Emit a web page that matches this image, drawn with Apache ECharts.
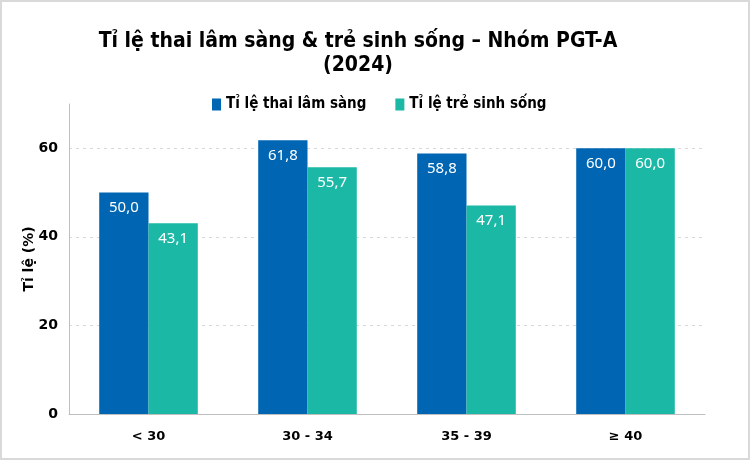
<!DOCTYPE html>
<html>
<head>
<meta charset="utf-8">
<script src="https://cdn.jsdelivr.net/npm/echarts@6/dist/echarts.min.js"></script>
<style>
  html, body { margin: 0; padding: 0; background: #fff; }
  #main { width: 746px; height: 456px; border: 2px solid #d9d9d9; }
</style>
</head>
<body>
<div id="main"></div>
<script>
// dữ liệu
var categories = ['< 30', '30 - 34', '35 - 39', '≥ 40'];
var thaiLamSang = [50.0, 61.8, 58.8, 60.0];
var treSinhSong = [43.1, 55.7, 47.1, 60.0];
var yTicks = [0, 20, 40, 60];

var myChart = echarts.init(document.getElementById('main'), null, { renderer: 'canvas' });

var labelStyle = {
  show: true,
  position: 'insideTop',
  distance: 8,
  color: '#fff',
  fontFamily: 'Noto Sans',
  fontSize: 15,
  formatter: function(p) {
    return p.value.toFixed(1).replace('.', ',');
  }
};

var option = {
  animation: false,
  title: {
    text: 'Tỉ lệ thai lâm sàng & trẻ sinh sống – Nhóm PGT-A\n(2024)',
    left: 351,
    top: 23,
    textAlign: 'center',
    textStyle: {
      fontFamily: 'DejaVu Sans Condensed',
      fontWeight: 'bold',
      fontSize: 21,
      lineHeight: 24,
      color: '#000'
    }
  },
  legend: {
    top: 90,
    left: 205,
    itemWidth: 9,
    itemHeight: 12,
    itemGap: 29,
    icon: 'rect',
    textStyle: {
      fontFamily: 'DejaVu Sans Condensed',
      fontWeight: 'bold',
      fontSize: 15,
      color: '#000'
    },
    data: ['Tỉ lệ thai lâm sàng', 'Tỉ lệ trẻ sinh sống']
  },
  grid: {
    left: 67,
    right: 43,
    top: 102,
    bottom: 44,
    containLabel: false
  },
  xAxis: {
    type: 'category',
    data: categories,
    axisLine: { lineStyle: { color: '#bfbfbf', width: 1 } },
    axisTick: { show: false },
    axisLabel: {
      margin: 16,
      color: '#000',
      fontFamily: 'DejaVu Sans',
      fontWeight: 'bold',
      fontSize: 13
    }
  },
  yAxis: {
    type: 'value',
    min: 0,
    max: 70,
    interval: 20,
    name: 'Tỉ lệ (%)',
    nameLocation: 'middle',
    nameGap: 33,
    nameMoveOverlap: false,
    nameTextStyle: {
      fontFamily: 'DejaVu Sans',
      fontWeight: 'bold',
      fontSize: 14,
      color: '#000'
    },
    axisLine: { show: true, lineStyle: { color: '#bfbfbf', width: 1 } },
    axisTick: { show: false },
    axisLabel: {
      color: '#000',
      fontFamily: 'DejaVu Sans',
      fontWeight: 'bold',
      fontSize: 14,
      margin: 11,
      formatter: function(v) {
        return yTicks.indexOf(v) >= 0 ? String(v) : '';
      }
    },
    splitLine: {
      show: true,
      showMaxLine: false,
      lineStyle: { color: '#d9d9d9', type: [3, 4] }
    }
  },
  series: [{
    name: 'Tỉ lệ thai lâm sàng',
    type: 'bar',
    data: thaiLamSang,
    barWidth: '31%',
    barGap: '0%',
    itemStyle: { color: '#0066B3' },
    label: labelStyle
  }, {
    name: 'Tỉ lệ trẻ sinh sống',
    type: 'bar',
    data: treSinhSong,
    barWidth: '31%',
    itemStyle: { color: '#1BB8A6' },
    label: labelStyle
  }]
};
myChart.setOption(option);
</script>
</body>
</html>
